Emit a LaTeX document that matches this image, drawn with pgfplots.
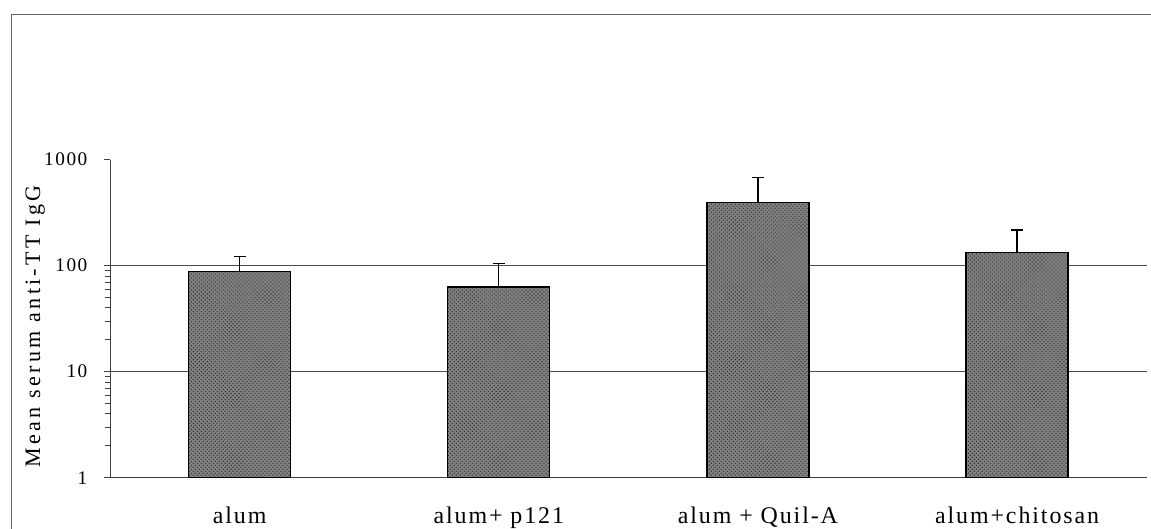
\documentclass[border=0pt]{standalone}
\usepackage{fontspec}
\setmainfont{Liberation Serif}
\newfontfamily\spacedfont[LetterSpace=8]{Liberation Serif}
\newfontfamily\widefont[LetterSpace=15]{Liberation Serif}
\usepackage{pgfplots}
\pgfplotsset{compat=1.18}
\usetikzlibrary{patterns}

\begin{document}
\begin{tikzpicture}
\useasboundingbox (0,0) rectangle (863.25bp,396.75bp);
% outer frame of the figure (only left and top edges show)
\draw[black!60, line width=0.6pt] (8.25bp,0) -- (8.25bp,386.25bp) -- (863.25bp,386.25bp);
\begin{axis}[
  at={(82.5bp,38.5bp)}, anchor=south west,
  scale only axis, width=777.5bp, height=238.5bp,
  xmin=0, xmax=4,
  ymode=log, ymin=1, ymax=1000,
  axis x line*=bottom, axis y line*=left,
  axis line style={black!75, line width=0.6pt, -},
  tick align=outside,
  major tick length=4.5bp, minor tick length=4bp,
  xtick={0.5,1.5,2.5,3.5},
  xticklabels={alum, alum+ p121, alum + Quil-A, alum+chitosan},
  xtick style={draw=none},
  minor xtick={0,1,2,3,4},
  minor x tick style={black!75, line width=0.6pt},
  ytick={1,10,100},
  yticklabels={1,10,100},
  extra y ticks={1000}, extra y tick labels={1000},
  extra y tick style={ymajorgrids=false},
  ymajorgrids=true,
  major grid style={black!70, line width=0.6pt},
  y tick style={black!75, line width=0.6pt},
  /pgf/number format/assume math mode=true,
  yticklabel style={font=\fontsize{14.5}{16}\selectfont\spacedfont, anchor=east, xshift=-9bp},
  xticklabel style={font=\fontsize{18}{20}\selectfont\spacedfont, anchor=base, yshift=-30bp},
]
\addplot[ybar, bar width=76.5bp, draw=black, line width=0.9pt,
  fill=black!50, postaction={pattern=crosshatch dots, pattern color=black!85},
  error bars/.cd, y dir=plus, y explicit,
  error bar style={line width=0.9pt, black},
  error mark options={rotate=90, mark size=4.5bp, line width=0.9pt, black}]
coordinates {
  (0.5,88)  +- (0,34)
  (1.5,63)  +- (0,41)
  (2.5,393) +- (0,289)
  (3.5,133) +- (0,84)
};
\end{axis}
\node[rotate=90, anchor=base, inner sep=0pt,
  font=\fontsize{16.6}{18}\selectfont\widefont] at (30bp,152bp)
  {Mean serum anti-TT IgG};
\end{tikzpicture}
\end{document}
